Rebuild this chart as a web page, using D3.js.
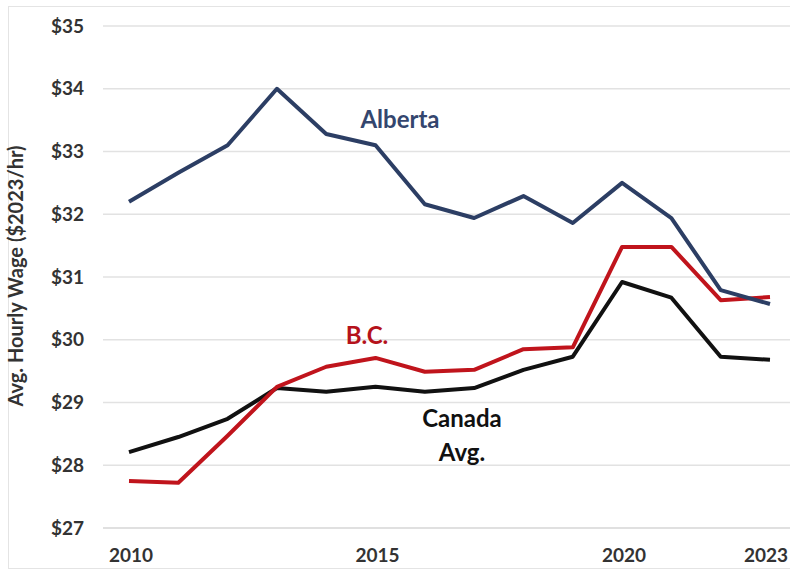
<!DOCTYPE html>
<html>
<head>
<meta charset="utf-8">
<script src="https://cdn.jsdelivr.net/npm/d3@7"></script>
<style>
  body { margin: 0; background: #fff; }
  svg { display: block; font-family: Lato, "Open Sans", sans-serif; }
</style>
</head>
<body>
<div id="chart"></div>
<script>
const years = [2010, 2011, 2012, 2013, 2014, 2015, 2016, 2017, 2018, 2019, 2020, 2021, 2022, 2023];
const alberta = [32.20, 32.66, 33.10, 34.00, 33.28, 33.10, 32.16, 31.94, 32.29, 31.86, 32.50, 31.94, 30.79, 30.57];
const bc = [27.75, 27.72, 28.47, 29.25, 29.57, 29.71, 29.49, 29.52, 29.85, 29.88, 31.48, 31.48, 30.63, 30.68];
const canada = [28.21, 28.45, 28.74, 29.23, 29.17, 29.25, 29.17, 29.23, 29.52, 29.73, 30.92, 30.67, 29.73, 29.68];
const yTicks = [27, 28, 29, 30, 31, 32, 33, 34, 35];
const xTicks = [2010, 2015, 2020, 2023];

const W = 790, H = 578;
const svg = d3.select("#chart").append("svg")
  .attr("width", W).attr("height", H);

// light frame
svg.append("rect")
  .attr("x", 8.5).attr("y", 6.5)
  .attr("width", W).attr("height", 562)
  .attr("fill", "#fff")
  .attr("stroke", "#e4e4e4");

const x = d3.scaleLinear().domain([2010, 2023]).range([129, 770]);
const y = d3.scaleLinear().domain([27, 35]).range([528, 26]);

// gridlines
svg.append("g").selectAll("line")
  .data(yTicks)
  .join("line")
  .attr("x1", 103).attr("x2", W)
  .attr("y1", d => y(d)).attr("y2", d => y(d))
  .attr("stroke", d => d === 27 ? "#d6d6d6" : "#e2e2e2")
  .attr("stroke-width", 1.5);

// y tick labels
svg.append("g").selectAll("text")
  .data(yTicks)
  .join("text")
  .attr("x", 84)
  .attr("y", d => y(d))
  .attr("dy", "0.35em")
  .attr("text-anchor", "end")
  .attr("font-size", 19)
  .attr("font-weight", "bold")
  .attr("fill", "#333")
  .text(d => "$" + d);

// x tick labels (last one pulled in so it stays on the page)
svg.append("g").selectAll("text")
  .data(xTicks)
  .join("text")
  .attr("x", d => d === 2023 ? 766 : x(d) + 2)
  .attr("y", 562)
  .attr("text-anchor", "middle")
  .attr("font-size", 19)
  .attr("font-weight", "bold")
  .attr("fill", "#333")
  .text(d => d);

// y axis title
svg.append("text")
  .attr("transform", "translate(23,276) rotate(-90)")
  .attr("text-anchor", "middle")
  .attr("font-size", 20)
  .attr("font-weight", "bold")
  .attr("fill", "#333")
  .text("Avg. Hourly Wage ($2023/hr)");

const line = d3.line()
  .x((d, i) => x(years[i]))
  .y(d => y(d));

const series = [
  { name: "Canada", values: canada, color: "#111111" },
  { name: "B.C.", values: bc, color: "#c0141c" },
  { name: "Alberta", values: alberta, color: "#2c3e64" }
];

svg.append("g").selectAll("path")
  .data(series)
  .join("path")
  .attr("d", d => line(d.values))
  .attr("fill", "none")
  .attr("stroke", d => d.color)
  .attr("stroke-width", 4)
  .attr("stroke-linejoin", "round");

// series labels
const labelStyle = sel => sel
  .attr("text-anchor", "middle")
  .attr("font-size", 24)
  .attr("font-weight", "bold");

svg.append("text").call(labelStyle)
  .attr("x", 400).attr("y", 128)
  .attr("fill", "#34466e")
  .text("Alberta");

svg.append("text").call(labelStyle)
  .attr("x", 367).attr("y", 344)
  .attr("fill", "#b5121b")
  .text("B.C.");

svg.append("text").call(labelStyle)
  .attr("x", 462).attr("y", 427)
  .attr("fill", "#111")
  .text("Canada");

svg.append("text").call(labelStyle)
  .attr("x", 462).attr("y", 461)
  .attr("fill", "#111")
  .text("Avg.");
</script>
</body>
</html>
